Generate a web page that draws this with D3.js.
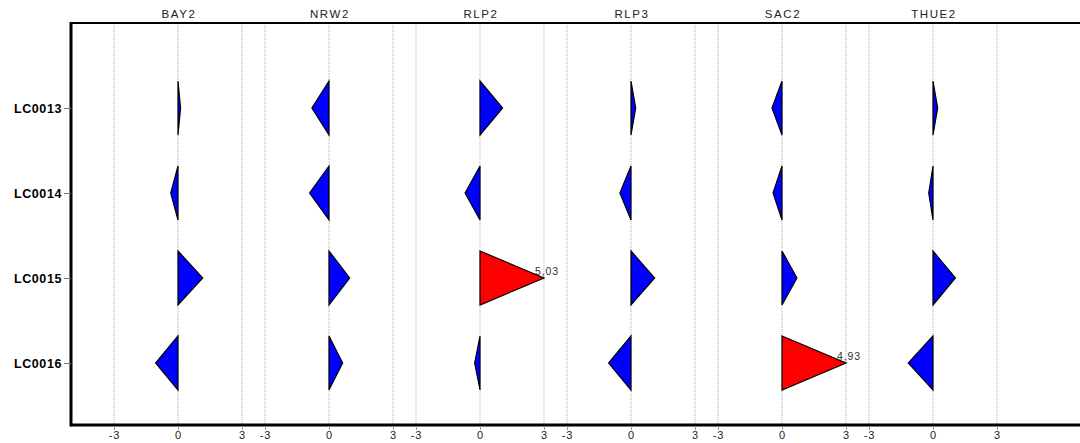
<!DOCTYPE html>
<html lang="en">
<head>
  <meta charset="utf-8">
  <title>Triangles</title>
  <script src="https://d3js.org/d3.v7.min.js"></script>
  <style>
    body { margin: 0; background: #fff; }
    text { font-family: "Liberation Sans", Arial, sans-serif; }
  </style>
</head>
<body>
  <script>
    // data
    var panels = ["BAY2", "NRW2", "RLP2", "RLP3", "SAC2", "THUE2"];
    var rows = ["LC0013", "LC0014", "LC0015", "LC0016"];
    var BAY2  = [0.12, -0.34, 1.16, -1.05];
    var NRW2  = [-0.80, -0.91, 0.97, 0.64];
    var RLP2  = [1.06, -0.70, 5.03, -0.25];
    var RLP3  = [0.22, -0.52, 1.11, -1.05];
    var SAC2  = [-0.47, -0.42, 0.70, 4.93];
    var THUE2 = [0.22, -0.20, 1.05, -1.16];
    var xTicks = [-3, 0, 3];
    var cap = 3;

    var series = [BAY2, NRW2, RLP2, RLP3, SAC2, THUE2];

    var width = 1080;
    var height = 443;

    var svg = d3.select("body")
      .append("svg")
      .attr("width", width)
      .attr("height", height);

    // one band per panel, inner linear scale for the values
    var xBand = d3.scaleBand()
      .domain(panels)
      .range([102.5, 1008.5]);

    var xInner = d3.scaleLinear()
      .domain([-3.54, 3.54])
      .range([0, xBand.bandwidth()]);

    var y = d3.scalePoint()
      .domain(rows)
      .range([108, 363]);

    var plotTop = 23, plotBottom = 425, plotLeft = 71;
    var half = 27;

    // dotted grid lines
    var grid = svg.append("g");
    panels.forEach(function(p) {
      grid.selectAll(null)
        .data(xTicks)
        .enter()
        .append("line")
        .attr("x1", function(d) { return xBand(p) + xInner(d); })
        .attr("x2", function(d) { return xBand(p) + xInner(d); })
        .attr("y1", plotTop)
        .attr("y2", plotBottom)
        .attr("stroke", "#aaa")
        .attr("stroke-width", 1)
        .attr("stroke-dasharray", "1,1");
    });

    // triangles
    var marks = svg.append("g");
    panels.forEach(function(p, i) {
      var x0 = xBand(p);
      var g = marks.append("g");
      g.selectAll("path")
        .data(series[i])
        .enter()
        .append("path")
        .attr("d", function(d, j) {
          var v = Math.max(-cap, Math.min(cap, d));
          var cy = y(rows[j]);
          var bx = x0 + xInner(0);
          var ax = x0 + xInner(v);
          return "M" + bx + "," + (cy - half) + "L" + ax + "," + cy + "L" + bx + "," + (cy + half) + "Z";
        })
        .attr("fill", function(d) { return Math.abs(d) > cap ? "#ff0000" : "#0000ff"; })
        .attr("stroke", "#000")
        .attr("stroke-width", 1.2);

      // value labels for the clipped ones
      g.selectAll("text")
        .data(series[i].map(function(d, j) { return {v: d, r: rows[j]}; })
          .filter(function(d) { return Math.abs(d.v) > cap; }))
        .enter()
        .append("text")
        .attr("x", function(d) { return x0 + xInner(d.v > 0 ? cap : -cap) + 3; })
        .attr("y", function(d) { return y(d.r) - 3; })
        .attr("text-anchor", "middle")
        .attr("font-size", 10.5)
        .attr("letter-spacing", 0.9)
        .attr("fill", "#333")
        .text(function(d) { return d.v.toFixed(2).replace(".", ","); });
    });

    // frame lines
    svg.append("line")
      .attr("x1", plotLeft).attr("x2", width)
      .attr("y1", plotTop).attr("y2", plotTop)
      .attr("stroke", "#000").attr("stroke-width", 2);
    svg.append("line")
      .attr("x1", plotLeft).attr("x2", width)
      .attr("y1", plotBottom).attr("y2", plotBottom)
      .attr("stroke", "#000").attr("stroke-width", 3);
    svg.append("line")
      .attr("x1", plotLeft).attr("x2", plotLeft)
      .attr("y1", plotTop - 1).attr("y2", plotBottom + 1.5)
      .attr("stroke", "#000").attr("stroke-width", 3);

    // panel headers
    svg.append("g")
      .selectAll("text")
      .data(panels)
      .enter()
      .append("text")
      .attr("x", function(d) { return xBand(d) + xInner(0) + 1; })
      .attr("y", 18)
      .attr("text-anchor", "middle")
      .attr("font-size", 11.5)
      .attr("letter-spacing", 1.6)
      .attr("fill", "#222")
      .text(function(d) { return d; });

    // bottom axes, one per panel
    panels.forEach(function(p) {
      var ax = d3.axisBottom(d3.scaleLinear()
          .domain(xInner.domain())
          .range([xBand(p), xBand(p) + xBand.bandwidth()]))
        .tickValues(xTicks)
        .tickFormat(function(d) { return String(d); })
        .tickSize(4)
        .tickPadding(1);
      var g = svg.append("g")
        .attr("transform", "translate(0," + (plotBottom + 1) + ")")
        .call(ax);
      g.select(".domain").remove();
      g.selectAll(".tick line").attr("stroke", "#999");
      g.selectAll(".tick text")
        .attr("font-size", 11)
        .attr("letter-spacing", 1)
        .attr("font-family", "Liberation Sans, Arial, sans-serif")
        .attr("fill", "#222");
    });

    // left axis with row names
    var yAxis = d3.axisLeft(y)
      .tickSize(7)
      .tickPadding(2);
    var gy = svg.append("g")
      .attr("transform", "translate(" + plotLeft + ",0)")
      .call(yAxis);
    gy.select(".domain").remove();
    gy.selectAll(".tick line").attr("stroke", "#777");
    gy.selectAll(".tick text")
      .attr("font-size", 12.5)
      .attr("font-weight", "bold")
      .attr("letter-spacing", 0.6)
      .attr("font-family", "Liberation Sans, Arial, sans-serif")
      .attr("fill", "#000");
  </script>
</body>
</html>
